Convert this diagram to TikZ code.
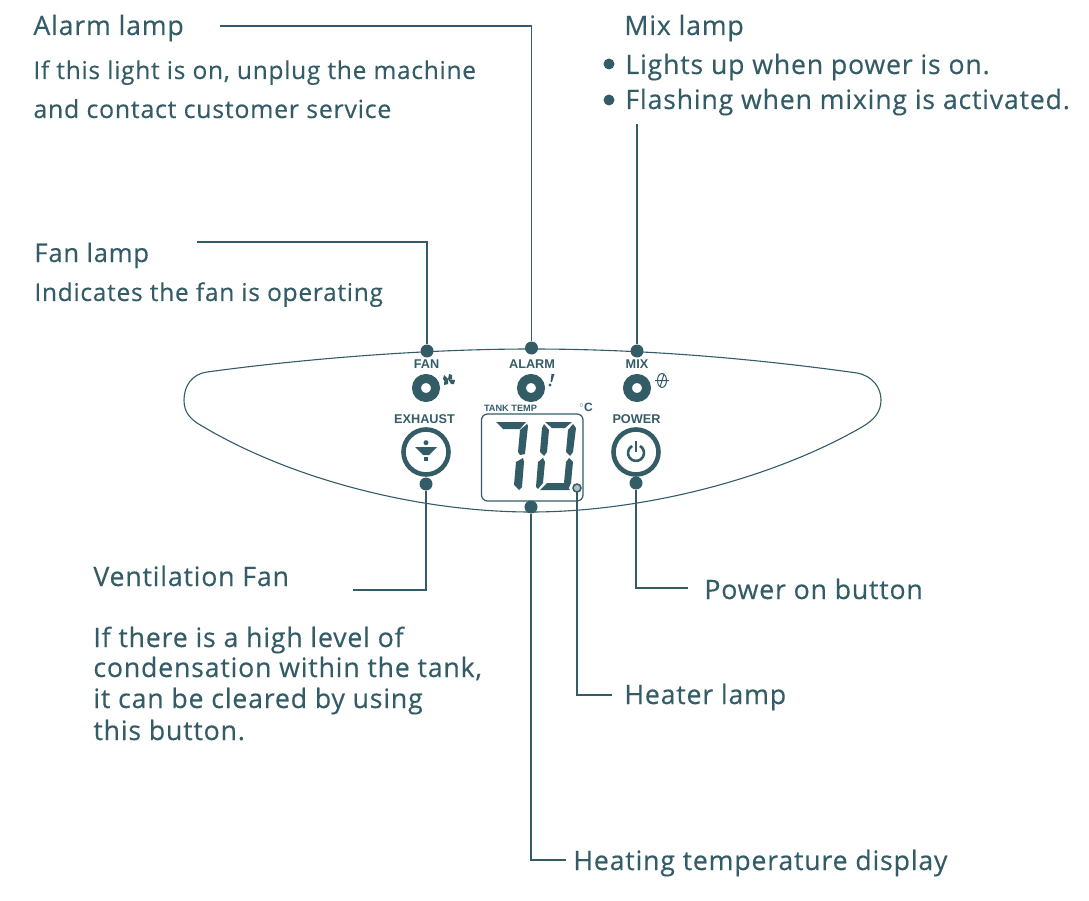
\documentclass[tikz,border=0pt]{standalone}
\usepackage{fontspec}
\setmainfont{Open Sans}[LetterSpace=3,FakeBold=0.3]
\newfontfamily\panelfont{Liberation Sans Bold}
\usepackage{xcolor}
\usetikzlibrary{positioning}
\definecolor{panelink}{HTML}{335C67}
\definecolor{heatergrey}{HTML}{B4BEC2}

\begin{document}
\begin{tikzpicture}[x=1pt,y=-1pt,every path/.style={panelink},panelink]

\tikzstyle{note}=[inner sep=0pt,anchor=base west,xshift=-0.8pt,text=panelink,font=\fontsize{26.7}{30}\selectfont]
\tikzstyle{smallnote}=[note,font=\fontsize{24.5}{30}\selectfont]
\tikzstyle{line}=[draw=panelink,line width=1.5pt]
\tikzstyle{dot}=[circle,fill=panelink,inner sep=0pt,minimum size=13pt]
\tikzstyle{bullet}=[circle,fill=panelink,inner sep=0pt,minimum size=11pt]
\tikzstyle{lamp}=[circle,draw=panelink,line width=9pt,fill=white,inner sep=0pt,minimum size=19pt]
\tikzstyle{button}=[circle,draw=panelink,line width=4.6pt,fill=white,inner sep=0pt,minimum size=45pt]
\tikzstyle{tag}=[inner sep=0pt,anchor=base,text=panelink,font=\panelfont\fontsize{12.7}{13}\selectfont]
\tikzstyle{seg}=[fill=panelink,draw=none]

\useasboundingbox (0,0) rectangle (1089,901);

\draw[line width=1.1pt] (207,372) .. controls (310,358) and (430,349) .. (531,349)
  .. controls (640,349) and (750,358) .. (857,373)
  .. controls (873,376) and (881,388) .. (881,400)
  .. controls (881,412) and (874,420) .. (862,427)
  .. controls (770,480) and (640,512) .. (531,512)
  .. controls (420,512) and (290,480) .. (197,423)
  .. controls (190,418) and (184,412) .. (184,400)
  .. controls (184,386) and (192,374) .. (207,372) -- cycle;

\node (alarmtitle) [note] at (34,35) {Alarm lamp};
\node (alarmtext) [smallnote] at (34,79) {If this light is on, unplug the machine};
\node (alarmtext2) [smallnote,font=\fontsize{24.9}{30}\selectfont] at (34,118) {and contact customer service};
\node (mixtitle) [note] at (625,35) {Mix lamp};
\node (mixon) [note] at (626,74) {Lights up when power is on.};
\node (mixflash) [note] at (626,109) {Flashing when mixing is activated.};
\node (bulleton) [bullet] at (609,64) {};
\node (bulletflash) [bullet] at (609,100) {};
\node (fantitle) [note,font=\fontsize{25.6}{30}\selectfont] at (35,262) {Fan lamp};
\node (fantext) [smallnote] at (35,301) {Indicates the fan is operating};
\node (venttitle) [note] at (94,586) {Ventilation Fan};
\node (venttext) [note] at (94,647) {If there is a high level of};
\node (venttext2) [note] at (94,677) {condensation within the tank,};
\node (venttext3) [note] at (94,708) {it can be cleared by using};
\node (venttext4) [note] at (94,740) {this button.};
\node (powertext) [note] at (705,599) {Power on button};
\node (heatertext) [note] at (625,704) {Heater lamp};
\node (displaytext) [note] at (574,870) {Heating temperature display};

\node (fanlamp) [lamp] at (426,388) {};
\node (alarmlamp) [lamp] at (531,388) {};
\node (mixlamp) [lamp] at (637,388) {};
\node (exhaust) [button] at (426,452) {};
\node (power) [button] at (636,452) {};

\node (fandot) [dot] at (427,351) {};
\node (alarmdot) [dot] at (531.5,348) {};
\node (mixdot) [dot] at (637,351) {};
\node (exhaustdot) [dot] at (426,484) {};
\node (powerdot) [dot] at (636,483) {};
\node (displaydot) [dot] at (531,507) {};

\coordinate (alarmend) at (220,26);
\coordinate (mixend) at (637,124);
\coordinate (fanend) at (197,242);
\coordinate (ventend) at (353,590);
\coordinate (powerend) at (688,588);
\coordinate (heaterend) at (612,695);
\coordinate (displayend) at (566,860);

\draw[line] (alarmend) -| (alarmdot);
\draw[line] (mixend) -- (mixdot);
\draw[line] (fanend) -| (fandot);
\draw[line] (ventend) -| (exhaustdot);
\draw[line] (powerend) -| (powerdot);
\draw[line] (displayend) -| (displaydot);

\node (fantag) [tag] at (426.5,368.5) {FAN};
\node (alarmtag) [tag] at (532,368.5) {ALARM};
\node (mixtag) [tag] at (637,368.5) {MIX};
\node (exhausttag) [tag] at (424.5,423) {EXHAUST};
\node (powertag) [tag] at (636.5,423.5) {POWER};
\node (tanktag) [tag,font=\panelfont\fontsize{9.2}{9}\selectfont] at (510.5,411) {TANK TEMP};
\node (degtag) [tag,font=\panelfont\fontsize{12}{12}\selectfont] at (586,411.5) {$^{\circ}$C};

\draw[draw=panelink,line width=1.2pt,rounded corners=6pt] (481.5,414) rectangle (583,501);

\fill[seg] (496,422) -- (526,422) -- (520,429) -- (503,429) -- cycle;
\fill[seg] (527,424) -- (528,426) -- (525,454) -- (520,455) -- (518,452) -- (520,430) -- cycle;
\fill[seg] (523,458) -- (524,462) -- (522,487) -- (519,490) -- (514,485) -- (516,462) -- cycle;
\fill[seg] (545,422) -- (572,422) -- (565,428) -- (552,428) -- cycle;
\fill[seg] (544,424) -- (549,430) -- (547,452) -- (544,456) -- (540,452) -- (542,428) -- cycle;
\fill[seg] (573,424) -- (576,428) -- (573,452) -- (570,456) -- (566,452) -- (568,430) -- cycle;
\fill[seg] (543,458) -- (545,462) -- (543,483) -- (538,489) -- (536,487) -- (538,462) -- cycle;
\fill[seg] (569,458) -- (573,462) -- (571,483) -- (568,490) -- (564,483) -- (566,462) -- cycle;
\fill[seg] (547,483) -- (564,483) -- (570,490) -- (540,490) -- cycle;

\draw[line] (577,488) -- (577,695) -- (heaterend);
\node (heaterdot) [circle,draw=panelink,line width=1.5pt,fill=heatergrey,inner sep=0pt,minimum size=8pt] at (577,488) {};

% fan mark
\fill (448,379) -- (444,375) -- (443,379) -- (445,382) -- cycle;
\fill (448,379) -- (449,374) -- (452,375) -- (452,379) -- cycle;
\fill (448,379) -- (455,380) -- (454,384) -- (451,384) -- cycle;
\fill (448,379) -- (444,382) -- (444,385) -- (448,384) -- cycle;
% alarm mark
\fill (551.5,374) -- (554.5,374) -- (552,382) -- (550.5,382) -- cycle;
\fill (550,385) circle (1.6);
% mix mark
\draw[line width=1pt] (662,380.5) ellipse (4.5 and 7);
\draw[line width=1pt] (655,380.5) -- (669,380.5) (664,374) -- (660,387);
% exhaust mark
\fill (415,447) -- (437,447) -- (429,455) -- (423,455) -- cycle;
\fill (426,442.7) circle (2.5);
\fill (424,457) rectangle (428,461);
% power mark
\draw[line width=2.6pt] (640,446) arc (-60:240:8);
\draw[line width=2.6pt] (636,441) -- (636,452);

\end{tikzpicture}
\end{document}
